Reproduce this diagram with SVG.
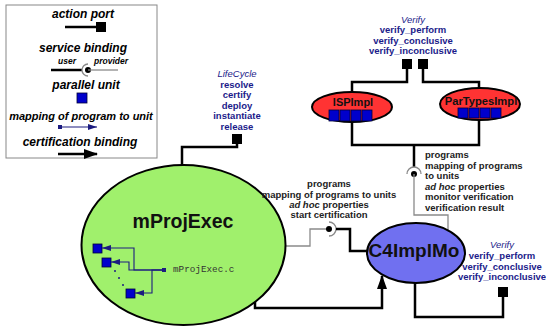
<svg xmlns="http://www.w3.org/2000/svg" width="546" height="326" viewBox="0 0 546 326">
<style>
.thick{stroke:#000;stroke-width:2.5;fill:none}
.thin{stroke:#8a8a8a;stroke-width:1.3;fill:none}
.nav{stroke:#1c1c80;stroke-width:1.1;fill:none}
.port{fill:#000}
.unit{fill:#0000cc;stroke:#00003a;stroke-width:0.8}
.t{font-family:"Liberation Sans",Arial,sans-serif;font-weight:bold;font-size:9.5px;fill:#1b1b8a;text-anchor:middle}
.tl{font-family:"Liberation Sans",Arial,sans-serif;font-weight:bold;font-size:9.5px;fill:#222;text-anchor:start}
.blk{fill:#222}
.it{font-style:italic;font-weight:normal}
.leg{font-family:"Liberation Sans",Arial,sans-serif;font-weight:bold;font-style:italic;font-size:12px;fill:#000;text-anchor:middle}
.small{font-size:8.5px}
.mid{font-size:11px}
.name{font-family:"Liberation Sans",Arial,sans-serif;font-weight:bold;fill:#111;text-anchor:middle}
.node{stroke:#000;stroke-width:2}
</style>
<defs>
<marker id="cert" markerUnits="userSpaceOnUse" markerWidth="14" markerHeight="10" refX="13" refY="5" orient="auto">
<path d="M0,0 L14,5 L0,10 Z" fill="#000"/>
</marker>
<marker id="map" markerUnits="userSpaceOnUse" markerWidth="9" markerHeight="6" refX="9" refY="3" orient="auto">
<path d="M0,0 L9,3 L0,6 Z" fill="#1c1c80"/>
</marker>
</defs>
<rect width="546" height="326" fill="#fff"/>

<g id="legend">
<rect x="6" y="5" width="151" height="153" fill="#fff" stroke="#888" stroke-width="1"/>
<text class="leg" x="83" y="18">action port</text>
<line class="thick" x1="65" y1="27" x2="97" y2="27"/>
<rect class="port" x="96" y="22" width="10" height="10"/>
<text class="leg" x="83" y="52">service binding</text>
<text class="leg small" x="67" y="64">user</text>
<text class="leg small" x="111" y="64">provider</text>
<line class="thick" x1="51" y1="70" x2="82" y2="70"/>
<path class="thin" d="M88,64 A6,6 0 0 0 88,76"/>
<circle cx="88" cy="70" r="3" fill="#000"/>
<line class="thin" x1="88" y1="70" x2="118" y2="70"/>
<text class="leg" x="86" y="89">parallel unit</text>
<rect class="unit" x="77" y="93" width="10" height="10"/>
<text class="leg mid" x="81" y="120">mapping of program to unit</text>
<rect x="58" y="125" width="4" height="4" fill="#1c1c80"/>
<line class="nav" x1="62" y1="127" x2="97" y2="127" marker-end="url(#map)"/>
<text class="leg" x="80" y="146">certification binding</text>
<line class="thick" x1="58" y1="154" x2="97" y2="154" marker-end="url(#cert)"/>
</g>

<g id="connectors">
<path class="thick" d="M237,143 V147 H182 V165"/>
<path class="thick" d="M407,69 V82 H352 V93"/>
<path class="thick" d="M423,69 V82 H479 V89"/>
<path class="thick" d="M352,122 V145 H479 V120"/>
<path class="thick" d="M414,145 V167"/>
<path class="thin" d="M407,174 A7,7 0 0 1 421,174"/>
<circle cx="414" cy="174" r="3" fill="#000"/>
<path class="thin" d="M414,174 V215 H448 V230"/>
<path class="thin" d="M285,246 H310 V229 H329"/>
<circle cx="329" cy="229" r="3" fill="#000"/>
<path class="thin" d="M329,222 A7,7 0 0 1 329,236"/>
<path class="thick" d="M336,229 H350 V251 H368"/>
<path class="thick" d="M255,302 V308 H382 V276" marker-end="url(#cert)"/>
<path class="thick" d="M415,283 V317 H503 V297"/>
</g>

<g id="ports">
<rect class="port" x="232" y="134" width="10" height="10"/>
<rect class="port" x="402" y="59" width="10" height="10"/>
<rect class="port" x="418" y="59" width="10" height="10"/>
<rect class="port" x="498" y="287" width="10" height="10"/>
</g>

<g id="mProjExec">
<ellipse class="node" cx="183.5" cy="245" rx="102" ry="80" fill="#a0f06c"/>
<text class="name" x="183" y="228" font-size="19.5">mProjExec</text>
<rect class="unit" x="93" y="244" width="9" height="9"/>
<rect class="unit" x="102" y="258" width="9" height="9"/>
<rect class="unit" x="126" y="289" width="9" height="9"/>
<circle cx="115" cy="271" r="1" fill="#1c1c80"/>
<circle cx="119" cy="278" r="1" fill="#1c1c80"/>
<circle cx="123" cy="285" r="1" fill="#1c1c80"/>
<rect x="162" y="268" width="4" height="4" fill="#1c1c80"/>
<path class="nav" d="M163,270 H134 V248 H102" marker-end="url(#map)"/>
<path class="nav" d="M163,270 H129 V262 H111" marker-end="url(#map)"/>
<path class="nav" d="M163,270 H152 V293 H135" marker-end="url(#map)"/>
<text x="173" y="272" font-family="'Liberation Mono','Courier New',monospace" font-size="9.3" fill="#333">mProjExec.c</text>
</g>

<g id="C4ImplMo">
<ellipse class="node" cx="416" cy="253" rx="49" ry="30" fill="#7070f0"/>
<text class="name" x="414" y="257" font-size="19">C4ImplMo</text>
</g>

<g id="ISPImpl">
<ellipse class="node" cx="352" cy="107" rx="40" ry="15" fill="#f33"/>
<text class="name" x="353" y="106" font-size="11">ISPImpl</text>
<rect class="unit" x="329" y="110" width="10" height="11"/>
<rect class="unit" x="340" y="110" width="10" height="11"/>
<rect class="unit" x="351" y="110" width="10" height="11"/>
<rect class="unit" x="362" y="110" width="10" height="11"/>
</g>

<g id="ParTypesImpl">
<ellipse class="node" cx="480" cy="104" rx="40" ry="16" fill="#f33"/>
<text class="name" x="481" y="105" font-size="11.2">ParTypesImpl</text>
<rect class="unit" x="458" y="108" width="10" height="10"/>
<rect class="unit" x="469" y="108" width="10" height="10"/>
<rect class="unit" x="480" y="108" width="10" height="10"/>
<rect class="unit" x="491" y="108" width="10" height="10"/>
</g>

<g id="labels">
<text class="t" x="237"><tspan class="it" x="237" y="77">LifeCycle</tspan><tspan x="237" y="87.5">resolve</tspan><tspan x="237" y="98">certify</tspan><tspan x="237" y="108.5">deploy</tspan><tspan x="237" y="119">instantiate</tspan><tspan x="237" y="129.5">release</tspan></text>
<text class="t" x="413"><tspan class="it" x="413" y="22.5">Verify</tspan><tspan x="413" y="33">verify_perform</tspan><tspan x="413" y="43.5">verify_conclusive</tspan><tspan x="413" y="54">verify_inconclusive</tspan></text>
<text class="t" x="502"><tspan class="it" x="502" y="248">Verify</tspan><tspan x="502" y="259">verify_perform</tspan><tspan x="502" y="269.5">verify_conclusive</tspan><tspan x="502" y="280">verify_inconclusive</tspan></text>
<text class="t blk"><tspan x="329" y="187">programs</tspan><tspan x="329" y="197.5">mapping of programs to units</tspan><tspan x="329" y="208"><tspan font-style="italic">ad hoc</tspan> properties</tspan><tspan x="329" y="218">start certification</tspan></text>
<text class="tl"><tspan x="425" y="158">programs</tspan><tspan x="425" y="168.5">mapping of programs</tspan><tspan x="425" y="179">to units</tspan><tspan x="425" y="189.5"><tspan font-style="italic">ad hoc</tspan> properties</tspan><tspan x="425" y="200">monitor verification</tspan><tspan x="425" y="210.5">verification result</tspan></text>
</g>
</svg>
